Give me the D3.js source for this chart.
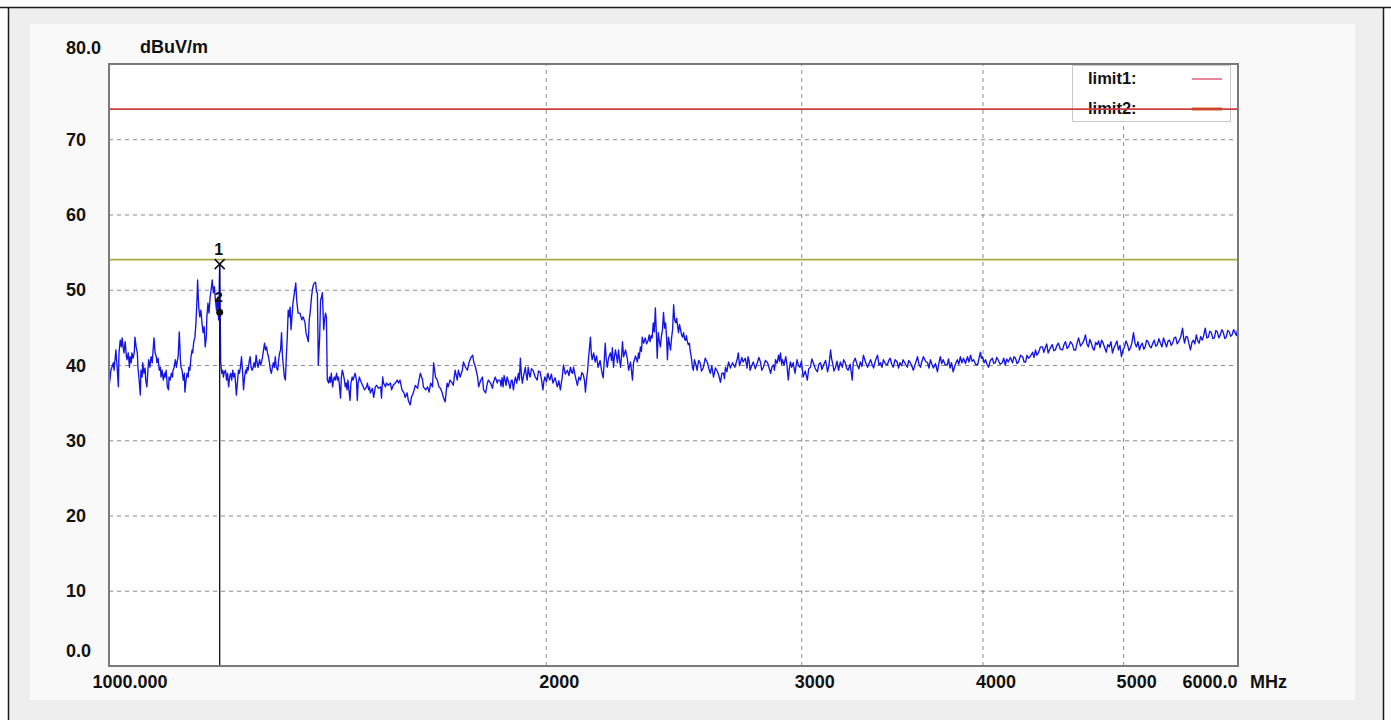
<!DOCTYPE html>
<html><head><meta charset="utf-8">
<script src="https://cdn.jsdelivr.net/npm/d3@7"></script>
<style>
body{margin:0;background:#fff;}
svg{display:block;}
text{font-family:"Liberation Sans",Arial,sans-serif;font-weight:bold;fill:#111;}
</style>
</head><body>
<svg id="c" width="1391" height="720"></svg>
<script>
// ---- data: [frequency MHz, level dBuV/m] ----
const trace = [
[1000,37.1],[1002,38.4],[1003,39.3],[1007,40.3],[1008,39.3],[1010,41.1],[1011,42.0],[1013,39.7],[1015,37.1],[1016,41.6],[1018,43.3],[1020,42.4],[1021,43.6],[1024,41.6],[1026,43.1],[1028,41.1],[1029,40.7],[1031,41.6],[1033,39.7],[1034,41.1],[1036,40.3],[1037,41.6],[1039,40.9],[1041,41.7],[1042,43.7],[1044,42.4],[1046,41.6],[1047,39.7],[1049,38.0],[1051,36.0],[1052,39.3],[1054,38.4],[1055,40.3],[1057,38.9],[1059,39.6],[1060,38.0],[1062,37.1],[1064,39.7],[1065,40.7],
[1067,39.7],[1069,41.1],[1071,40.3],[1074,43.6],[1076,41.6],[1078,41.1],[1079,40.3],[1081,40.9],[1083,39.3],[1085,39.7],[1086,38.4],[1088,39.3],[1090,38.0],[1092,38.9],[1093,38.4],[1095,39.3],[1097,37.1],[1099,36.7],[1100,38.4],[1102,38.0],[1104,38.9],[1106,38.4],[1107,39.3],[1109,39.7],[1111,40.7],[1113,39.7],[1114,40.3],[1116,41.1],[1118,44.4],[1120,40.7],[1121,39.7],[1123,39.3],[1125,38.0],[1127,38.9],[1128,36.4],[1130,38.0],[1132,38.9],[1134,38.4],[1135,39.7],[1137,39.3],[1139,41.1],[1141,42.0],[1142,41.6],[1144,43.1],[1146,43.6],[1148,45.6],[1150,49.0],[1151,51.3],[1153,47.7],
[1155,46.4],[1157,47.3],[1159,45.6],[1161,44.3],[1163,45.1],[1165,42.4],[1167,43.7],[1168,46.4],[1170,48.2],[1172,46.9],[1174,49.0],[1176,50.0],[1178,51.3],[1180,49.6],[1182,50.4],[1184,48.6],[1186,47.3],[1188,49.0],[1190,46.0],[1192,53.4],[1194,40.3],[1196,38.9],[1198,39.3],[1199,38.4],[1201,39.1],[1203,39.3],[1205,38.0],[1207,38.9],[1209,37.1],[1211,38.4],[1213,38.9],[1215,38.0],[1217,39.3],[1219,38.4],[1221,38.9],[1222,38.0],[1224,36.0],[1226,37.6],[1228,39.3],[1230,38.9],[1232,39.7],[1234,41.1],[1236,39.3],[1238,36.7],[1240,38.4],[1242,39.3],[1244,38.9],[1245,39.7],[1247,39.3],[1249,40.4],
[1251,41.1],[1253,39.7],[1255,39.3],[1257,39.7],[1259,40.3],[1261,39.7],[1263,41.3],[1265,40.3],[1267,39.7],[1270,40.7],[1272,40.0],[1274,40.4],[1276,41.1],[1278,42.0],[1280,42.9],[1282,42.0],[1284,42.4],[1286,41.6],[1288,41.1],[1290,40.3],[1292,39.3],[1294,38.9],[1296,39.7],[1298,40.3],[1300,39.7],[1302,41.1],[1304,39.7],[1307,39.3],[1309,40.7],[1311,41.6],[1313,42.0],[1315,44.3],[1317,41.1],[1319,39.7],[1321,38.4],[1323,38.0],[1325,41.1],[1327,43.7],[1329,47.3],[1331,46.4],[1333,47.7],[1335,44.7],[1339,48.2],[1343,50.0],[1345,50.9],[1347,48.6],[1350,46.9],
[1354,46.9],[1358,46.0],[1361,46.4],[1365,45.6],[1367,44.3],[1372,43.1],[1374,46.0],[1376,46.9],[1379,49.0],[1381,50.0],[1383,50.6],[1385,50.9],[1388,51.0],[1390,49.7],[1392,49.6],[1394,40.0],[1397,43.7],[1399,48.6],[1401,49.0],[1403,49.6],[1406,44.7],[1408,46.0],[1410,46.9],[1412,46.4],[1414,38.0],[1417,37.6],[1419,38.4],[1421,37.7],[1423,38.9],[1426,37.1],[1428,38.0],[1430,38.4],[1432,38.0],[1435,38.9],[1437,38.0],[1439,38.4],[1441,37.6],[1444,35.6],[1446,38.4],[1448,39.3],[1450,38.9],[1453,38.0],[1455,37.1],[1457,37.6],[1459,36.7],[1461,38.0],
[1466,35.3],[1468,37.6],[1471,38.4],[1473,38.0],[1478,38.9],[1481,38.0],[1483,35.3],[1485,37.6],[1488,38.4],[1490,38.0],[1493,37.6],[1497,37.1],[1500,36.7],[1505,37.1],[1507,37.6],[1510,36.7],[1512,37.1],[1514,36.3],[1519,36.9],[1522,35.7],[1526,37.1],[1529,37.3],[1534,36.9],[1539,37.1],[1541,35.6],[1544,38.4],[1546,37.6],[1551,37.1],[1553,37.6],[1558,37.3],[1563,37.6],[1566,36.7],[1570,37.3],[1575,37.6],[1580,38.0],[1583,37.6],
[1587,38.0],[1592,36.7],[1597,36.3],[1600,35.7],[1605,36.3],[1608,35.3],[1613,34.7],[1616,35.7],[1621,36.3],[1626,37.3],[1632,36.9],[1634,37.6],[1639,38.9],[1645,38.0],[1647,37.1],[1653,36.7],[1658,37.1],[1662,36.4],[1666,37.6],[1671,37.1],[1674,40.3],[1679,38.4],[1684,38.0],[1688,37.1],[1692,36.9],[1697,36.3],[1700,35.7],[1705,35.1],[1710,37.6],[1713,37.1],
[1718,38.0],[1724,37.6],[1727,37.3],[1732,39.3],[1738,38.0],[1741,39.3],[1746,38.4],[1752,39.3],[1755,40.4],[1761,39.7],[1766,39.3],[1770,40.2],[1775,40.9],[1781,41.3],[1784,40.4],[1789,39.7],[1795,38.4],[1798,37.1],[1804,38.0],[1809,38.4],[1812,36.7],[1818,36.3],[1823,37.6],[1826,38.0],[1832,37.6],[1838,36.9],[1840,37.6],[1846,38.4],[1852,37.6],[1854,38.0],
[1860,38.0],[1863,37.2],[1866,38.3],[1869,37.1],[1872,38.6],[1875,38.0],[1878,37.3],[1881,38.4],[1885,37.8],[1890,36.9],[1893,37.9],[1896,38.0],[1900,36.7],[1903,37.7],[1906,38.4],[1910,37.6],[1915,38.9],[1918,38.0],[1921,40.9],[1924,38.8],[1927,37.6],[1931,38.6],[1936,39.7],[1939,38.7],[1942,38.0],[1945,39.7],[1948,38.9],[1951,38.4],[1955,39.5],[1960,39.3],[1966,38.5],[1973,38.0],[1977,39.2],[1982,39.1],[1986,38.2],[1991,36.7],[1994,37.8],[1997,38.4],
[2002,37.8],[2007,38.9],[2010,38.3],[2013,38.0],[2018,38.8],[2023,37.6],[2030,38.3],[2037,37.1],[2042,37.9],[2047,36.7],[2050,37.6],[2053,38.4],[2057,40.0],[2063,38.8],[2070,39.3],[2075,38.6],[2080,39.7],[2084,39.0],[2087,38.9],[2090,39.7],[2096,38.5],[2103,37.3],[2108,38.4],[2113,38.0],[2118,39.0],[2123,38.7],[2127,37.9],[2130,36.4],[2134,38.2],[2137,39.1],[2140,40.7],[2147,43.7],[2150,41.5],[2153,40.7],[2158,41.6],[2163,40.4],[2168,41.2],[2173,39.7],[2180,40.6],
[2187,38.9],[2191,38.3],[2194,40.2],[2198,42.9],[2201,41.0],[2205,39.7],[2210,41.0],[2216,41.6],[2220,40.6],[2223,42.3],[2227,39.7],[2230,41.0],[2234,42.0],[2238,41.1],[2241,40.3],[2245,42.0],[2248,40.9],[2252,39.7],[2256,41.3],[2259,43.1],[2263,41.1],[2270,42.0],[2277,40.7],[2281,39.3],[2288,40.4],[2295,38.0],[2299,40.3],[2306,41.2],[2313,40.4],[2317,41.6],[2320,40.9],[2324,42.4],[2328,41.8],[2331,43.7],[2336,42.9],[2342,43.6],[2347,42.8],[2353,43.3],[2357,44.0],
[2360,43.1],[2364,43.9],[2368,43.6],[2372,45.6],[2376,44.4],[2380,47.6],[2384,44.0],[2387,40.9],[2391,44.3],[2395,43.2],[2399,42.4],[2403,43.8],[2407,44.7],[2411,47.0],[2415,44.9],[2419,45.6],[2423,43.5],[2426,40.7],[2430,43.7],[2434,42.8],[2438,42.0],[2442,43.6],[2446,44.7],[2450,48.0],[2454,46.0],[2458,45.6],[2462,46.2],[2465,45.3],[2469,44.3],[2473,45.4],[2477,44.7],[2481,44.0],[2485,43.7],[2489,44.3],[2493,43.4],[2497,43.3],[2500,43.9],[2504,43.1],[2508,42.7],[2512,42.9],[2516,41.7],[2520,41.0],[2524,39.7],[2528,39.3],[2532,40.7],[2536,40.3],[2540,39.8],[2543,39.3],[2549,40.6],
[2555,40.3],[2561,39.2],[2568,39.6],[2576,40.9],[2585,40.3],[2591,39.5],[2597,38.9],[2603,39.9],[2610,38.4],[2618,39.6],[2627,39.1],[2633,38.5],[2639,37.7],[2645,38.9],[2652,38.9],[2656,38.2],[2660,39.7],[2666,39.1],[2673,40.4],[2681,39.6],[2690,40.3],[2700,39.7],[2711,40.9],[2715,41.6],[2720,39.9],[2724,40.3],[2730,41.0],[2736,40.4],[2745,40.9],[2753,39.6],[2757,41.1],[2762,40.5],
[2766,39.3],[2773,39.9],[2780,40.4],[2789,39.5],[2798,40.3],[2805,41.0],[2812,40.4],[2818,39.3],[2825,39.7],[2834,40.6],[2844,40.3],[2851,39.6],[2858,38.9],[2864,39.8],[2871,40.0],[2875,39.3],[2880,40.7],[2887,40.2],[2894,41.3],[2898,40.5],[2903,41.6],[2908,40.1],[2912,40.7],[2919,40.0],[2927,41.1],[2932,40.2],[2936,38.9],[2939,38.0],[2944,39.6],[2949,40.4],[2955,39.7],[2962,40.3],[2966,39.6],[2971,38.9],[2975,39.8],[2980,40.7],[2987,39.9],
[2994,39.7],[3001,40.5],[3009,38.4],[3019,39.2],[3029,38.0],[3036,39.5],[3044,39.7],[3051,40.8],[3058,40.3],[3068,39.5],[3078,39.1],[3085,40.1],[3093,40.3],[3100,39.4],[3108,40.0],[3118,40.6],[3128,39.1],[3135,40.0],[3143,42.0],[3148,40.8],[3153,40.3],[3160,39.2],[3168,39.7],[3175,40.5],[3183,39.3],[3192,40.4],[3202,39.7],[3209,40.7],[3217,40.3],[3224,39.6],[3232,39.3],[3242,40.1],
[3253,38.0],[3258,40.3],[3268,40.9],[3279,40.0],[3287,39.5],[3295,40.4],[3303,39.8],[3311,41.3],[3322,40.4],[3333,39.7],[3341,40.2],[3349,40.7],[3357,40.1],[3365,39.6],[3375,40.6],[3386,41.3],[3394,40.0],[3402,40.3],[3410,39.7],[3418,40.7],[3428,40.2],[3439,40.0],[3447,40.6],[3455,40.9],[3463,40.1],[3471,39.7],[3482,40.7],[3493,40.4],[3501,39.6],
[3509,40.3],[3518,39.9],[3526,40.7],[3538,40.2],[3550,39.7],[3558,40.6],[3567,40.3],[3575,39.9],[3584,39.3],[3596,40.2],[3608,41.1],[3616,40.1],[3625,39.7],[3633,40.5],[3642,41.1],[3654,40.5],[3666,40.3],[3674,39.6],[3683,40.7],[3691,40.1],[3700,39.6],[3712,40.2],[3724,39.1],[3732,40.2],[3741,41.1],[3749,40.2],[3758,40.7],[3770,40.0],[3782,40.0],[3790,40.8],
[3799,39.6],[3808,40.3],[3818,39.1],[3830,40.0],[3843,40.7],[3852,40.1],[3862,41.1],[3871,40.3],[3881,40.9],[3893,40.2],[3906,41.1],[3915,40.4],[3925,41.3],[3934,40.5],[3944,40.7],[3956,40.1],[3969,40.0],[3978,40.9],[3987,41.7],[3993,40.9],[4000,41.1],[4010,40.3],[4019,40.7],[4028,40.1],[4038,39.7],[4050,40.6],[4063,40.9],[4072,40.2],[4082,40.3],[4091,41.0],[4100,40.7],
[4113,40.1],[4127,40.3],[4137,40.9],[4147,40.0],[4157,40.8],[4167,40.4],[4181,41.0],[4195,40.3],[4205,41.1],[4215,40.9],[4225,40.2],[4235,40.4],[4249,41.3],[4263,41.1],[4273,40.4],[4283,40.4],[4293,41.3],[4303,40.9],[4317,41.2],[4331,41.7],[4341,41.0],[4351,42.0],[4361,41.3],[4371,41.6],[4385,42.4],[4399,42.4],[4409,41.7],[4419,42.3],[4429,42.8],[4439,41.6],
[4453,42.2],[4468,42.7],[4479,41.9],[4490,42.0],[4501,42.6],[4512,42.9],[4526,42.1],[4541,42.0],[4552,42.7],[4563,43.1],[4574,42.2],[4585,42.4],[4599,43.1],[4614,42.7],[4625,42.0],[4637,42.0],[4648,42.9],[4659,43.6],[4673,42.5],[4688,42.9],[4699,43.3],[4710,44.0],[4721,42.8],[4732,42.4],[4743,43.4],[4754,42.9],[4765,42.2],[4776,42.0],[4787,43.0],[4798,42.7],[4809,43.2],
[4820,42.3],[4832,43.3],[4844,42.9],[4856,42.3],[4868,41.7],[4880,42.7],[4892,42.4],[4904,43.1],[4916,41.6],[4928,42.3],[4939,42.7],[4951,43.2],[4963,42.0],[4975,42.6],[4987,41.1],[4999,42.0],[5011,42.4],[5023,43.2],[5035,42.7],[5047,41.9],[5059,42.3],[5071,43.0],[5083,44.3],[5095,42.9],[5107,42.4],[5119,43.1],[5131,42.0],[5143,42.6],[5155,42.9],[5167,42.1],[5178,42.4],[5190,43.3],[5202,43.1],[5215,42.5],
[5228,42.3],[5241,42.9],[5253,43.3],[5266,42.5],[5279,42.7],[5292,43.5],[5305,42.9],[5318,42.4],[5331,43.6],[5344,43.0],[5357,42.4],[5370,43.2],[5383,43.3],[5396,42.6],[5409,42.9],[5422,43.6],[5435,43.7],[5448,42.8],[5460,43.1],[5478,43.7],[5495,44.9],[5504,43.6],[5512,42.9],[5525,43.8],[5538,43.7],[5551,42.8],[5564,42.0],[5577,43.0],[5590,43.3],[5603,42.8],[5616,44.0],[5629,43.2],[5641,42.9],[5655,43.8],
[5668,43.3],[5682,43.9],[5696,44.9],[5710,43.6],[5724,43.7],[5738,44.5],[5751,44.3],[5765,43.5],[5779,43.6],[5793,44.6],[5806,44.4],[5820,43.6],[5834,44.0],[5848,44.7],[5862,44.3],[5876,43.5],[5889,43.7],[5903,44.6],[5917,44.4],[5931,43.8],[5944,44.0],[5958,44.7],[5972,44.3],[5986,43.9],[6000,45.1]
];
const yTicks = [80,70,60,50,40,30,20,10,0];
const yTickLabels = ["80.0","70","60","50","40","30","20","10","0.0"];
const yGridTicks = [10,20,30,40,50,60,70];
const xTicks = [1000,2000,3000,4000,5000,6000];
const xTickLabels = ["1000.000","2000","3000","4000","5000","6000.0"];
const xGridTicks = [2000,3000,4000,5000];
const limitNames = ["limit1:","limit2:"];
const limitLevels = [74,54];
const limitColors = ["#d23c3c","#a9a944"];
const limitLegendColors = ["#e0607a","#c4650c"];
const markerIds = ["1","2"];
const markerFreqs = [1192,1192];
const markerLevels = [53.4,47.0];
const yUnit = "dBuV/m";
const xUnit = "MHz";

// ---- layout ----
const L = 109, R = 1238, T = 64, B = 666;
const svg = d3.select("#c");

// page frame / background
svg.append("rect").attr("width",1391).attr("height",720).attr("fill","#ffffff");
svg.append("rect").attr("x",9).attr("y",8).attr("width",1374).attr("height",712).attr("fill","#eeeeee");
svg.append("rect").attr("x",30).attr("y",24).attr("width",1325).attr("height",676).attr("fill","#f9f9f9");
svg.append("path").attr("d","M0,7.5H1391M8.5,7.5V720M1383.5,7.5V720")
  .attr("stroke","#1a1a1a").attr("stroke-width",1.5).attr("fill","none");

const x = d3.scaleLog().domain([1000,6000]).range([L,R]);
const y = d3.scaleLinear().domain([0,80]).range([B,T]);

// plot background
svg.append("rect").attr("x",L).attr("y",T).attr("width",R-L).attr("height",B-T).attr("fill","#ffffff");

// grids
const gx = svg.append("g").attr("transform",`translate(0,${B})`)
  .call(d3.axisBottom(x).tickValues(xGridTicks).tickSize(-(B-T)).tickFormat(""));
gx.select(".domain").remove();
gx.selectAll("line").attr("stroke","#8a8a8a").attr("stroke-width",1).attr("stroke-dasharray","4,4");

const gy = svg.append("g").attr("transform",`translate(${L},0)`)
  .call(d3.axisLeft(y).tickValues(yGridTicks).tickSize(-(R-L)).tickFormat(""));
gy.select(".domain").remove();
gy.selectAll("line").attr("stroke","#8a8a8a").attr("stroke-width",1).attr("stroke-dasharray","4,4");

// legend box
const lg = svg.append("g");
lg.append("rect").attr("x",1072.5).attr("y",65.5).attr("width",158).attr("height",56)
  .attr("fill","#ffffff").attr("stroke","#c9c9c9");
limitNames.forEach((n,i)=>{
  const yy = 84 + i*30;
  lg.append("text").attr("x",1088).attr("y",yy).attr("font-size",16.5).text(n);
  lg.append("line").attr("x1",1192).attr("x2",1222).attr("y1",yy-5).attr("y2",yy-5)
    .attr("stroke",limitLegendColors[i]).attr("stroke-width", i===0?1.5:3);
});

// limit lines
limitLevels.forEach((v,i)=>{
  svg.append("line").attr("x1",L).attr("x2",R).attr("y1",y(v)).attr("y2",y(v))
    .attr("stroke",limitColors[i]).attr("stroke-width",1.6);
});

// trace
svg.append("path").datum(trace)
  .attr("d", d3.line().x(d=>x(d[0])).y(d=>y(d[1])))
  .attr("fill","none").attr("stroke","#1414e6").attr("stroke-width",1.35).attr("stroke-linejoin","round");

// markers
const mx = x(markerFreqs[0]);
svg.append("line").attr("x1",mx).attr("x2",mx).attr("y1",y(markerLevels[0])).attr("y2",B)
  .attr("stroke","#111").attr("stroke-width",1.3);
markerIds.forEach((id,i)=>{
  const px = x(markerFreqs[i]), py = y(markerLevels[i]);
  if(i===0){
    svg.append("path").attr("d",`M${px-5},${py-5}L${px+5},${py+5}M${px-5},${py+5}L${px+5},${py-5}`)
      .attr("stroke","#111").attr("stroke-width",1.6);
    svg.append("text").attr("x",px-1).attr("y",py-9).attr("text-anchor","middle").attr("font-size",16).text(id);
  } else {
    svg.append("circle").attr("cx",px).attr("cy",py).attr("r",3.5).attr("fill","#111");
    svg.append("text").attr("x",px-1).attr("y",py-10).attr("text-anchor","middle").attr("font-size",15).text(id);
  }
});

// frame
svg.append("rect").attr("x",L).attr("y",T).attr("width",R-L).attr("height",B-T)
  .attr("fill","none").attr("stroke","#7a7a7a").attr("stroke-width",2);

// y labels (axis)
const ay = svg.append("g").attr("transform",`translate(${L},0)`)
  .call(d3.axisLeft(y).tickValues(yTicks).tickSize(0).tickFormat((d,i)=>yTickLabels[i]));
ay.select(".domain").remove();
ay.selectAll("text")
  .attr("x",-43).attr("dy",null).attr("text-anchor","start")
  .attr("font-size",18).attr("font-family",null)
  .attr("fill","#111")
  .attr("transform",d=> d===80 ? "translate(0,-11)" : d===0 ? "translate(0,-10)" : "translate(0,6)");

// x labels (axis)
const ax = svg.append("g").attr("transform",`translate(0,${B})`)
  .call(d3.axisBottom(x).tickValues(xTicks).tickSize(0).tickFormat((d,i)=>xTickLabels[i]));
ax.select(".domain").remove();
ax.selectAll("text")
  .attr("y",22).attr("dy",null).attr("font-size",18).attr("font-family",null).attr("fill","#111")
  .attr("text-anchor",d=> d===6000 ? "end" : "start")
  .attr("x",d=> d===1000 ? -17 : d===6000 ? -1 : -7);

// units
svg.append("text").attr("x",140).attr("y",53).attr("font-size",18).text(yUnit);
svg.append("text").attr("x",1250).attr("y",688).attr("font-size",18).text(xUnit);
</script>
</body></html>
